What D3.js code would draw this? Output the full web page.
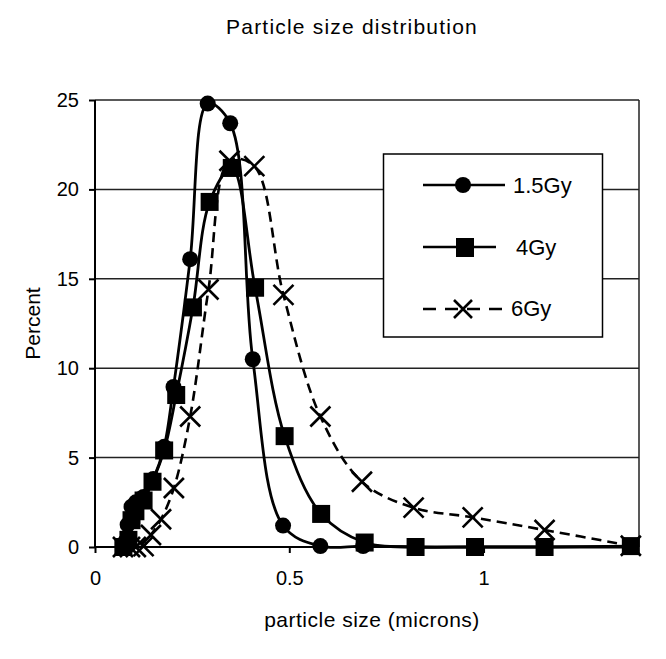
<!DOCTYPE html>
<html><head><meta charset="utf-8">
<script src="https://cdn.jsdelivr.net/npm/d3@7"></script>
<style>
html,body{margin:0;padding:0;background:#fff;}
svg{display:block;font-family:"Liberation Sans",Arial,sans-serif;}
</style></head>
<body>
<script>
// ---- data ----
const title = "Particle size distribution";
const xLabel = "particle size (microns)";
const yLabel = "Percent";
const xTicks = [0, 0.5, 1];
const yTicks = [0, 5, 10, 15, 20, 25];
const seriesNames = ["1.5Gy", "4Gy", "6Gy"];

const x15 = [0.072,0.078,0.084,0.094,0.105,0.125,0.150,0.178,0.202,0.245,0.290,0.348,0.406,0.484,0.580,0.690,0.825,0.978,1.157,1.379];
const y15 = [0.0,0.3,1.25,2.25,2.5,2.8,3.8,5.6,8.95,16.1,24.8,23.7,10.5,1.2,0.05,0.05,0,0,0,0];

const x4 = [0.073,0.086,0.094,0.104,0.125,0.148,0.178,0.209,0.252,0.295,0.352,0.412,0.488,0.582,0.694,0.825,0.978,1.157,1.379];
const y4 = [0.0,0.4,1.5,2.0,2.6,3.65,5.4,8.5,13.4,19.3,21.2,14.5,6.2,1.85,0.25,0,0,0,0.05];

const x6 = [0.072,0.090,0.105,0.125,0.144,0.170,0.203,0.245,0.292,0.346,0.410,0.485,0.580,0.687,0.820,0.972,1.157,1.379];
const y6 = [0,0,0,0.05,0.67,1.55,3.3,7.3,14.4,21.6,21.3,14.1,7.3,3.65,2.2,1.66,0.95,0.07];

const W = 666, H = 659;
const m = {left:95, top:100, right:639, bottom:547};

const svg = d3.select("body").append("svg").attr("width",W).attr("height",H);
svg.append("rect").attr("width",W).attr("height",H).attr("fill","#fff");

const x = d3.scaleLinear().domain([0,1.4]).range([m.left,m.right]);
const y = d3.scaleLinear().domain([0,25]).range([m.bottom,m.top]);

// gridlines
svg.append("g").selectAll("line").data(yTicks.filter(d=>d>0)).join("line")
  .attr("x1",m.left).attr("x2",m.right).attr("y1",d=>y(d)).attr("y2",d=>y(d))
  .attr("stroke","#222").attr("stroke-width",1.5);
// right border
svg.append("line").attr("x1",m.right).attr("x2",m.right).attr("y1",m.top).attr("y2",m.bottom)
  .attr("stroke","#222").attr("stroke-width",1.5);

// axes
const yAxis = svg.append("g").attr("transform",`translate(${m.left},0)`)
  .call(d3.axisLeft(y).tickValues(yTicks).tickSize(6).tickPadding(10).tickFormat(d3.format("d")));
const xAxis = svg.append("g").attr("transform",`translate(0,${m.bottom})`)
  .call(d3.axisBottom(x).tickValues(xTicks).tickSize(6).tickPadding(18).tickFormat(d=>String(d)));
[yAxis,xAxis].forEach(g=>{
  g.select(".domain").attr("stroke","#000").attr("stroke-width",2);
  g.selectAll(".tick line").attr("stroke","#000").attr("stroke-width",2);
  g.selectAll("text").attr("font-family","Liberation Sans, Arial, sans-serif").attr("font-size",20).attr("fill","#000");
});
xAxis.select(".domain").attr("d",`M${m.left},0H${m.right}`);
yAxis.select(".domain").attr("d",`M0,${m.bottom}V${m.top}`);

// titles
svg.append("text").attr("x",352).attr("y",34).attr("text-anchor","middle")
  .attr("font-size",21).attr("letter-spacing",1.2).text(title);
svg.append("text").attr("x",372).attr("y",627).attr("text-anchor","middle")
  .attr("font-size",21).attr("letter-spacing",0.5).text(xLabel);
svg.append("text").attr("transform",`translate(40,${(m.top+m.bottom)/2}) rotate(-90)`)
  .attr("text-anchor","middle").attr("font-size",21).text(yLabel);

const line = d3.line().x(d=>x(d[0])).y(d=>y(d[1])).curve(d3.curveCatmullRom.alpha(0.5));
const d15 = x15.map((v,i)=>[v,y15[i]]);
const d4 = x4.map((v,i)=>[v,y4[i]]);
const d6 = x6.map((v,i)=>[v,y6[i]]);

// lines
svg.append("path").datum(d6).attr("d",line).attr("fill","none").attr("stroke","#000")
  .attr("stroke-width",2.6).attr("stroke-dasharray","10,6");
svg.append("path").datum(d4).attr("d",line).attr("fill","none").attr("stroke","#000").attr("stroke-width",2.8);
svg.append("path").datum(d15).attr("d",line).attr("fill","none").attr("stroke","#000").attr("stroke-width",2.8);

// markers
function cross(g, cx, cy, s){
  g.append("path").attr("d",`M${cx-s},${cy-s}L${cx+s},${cy+s}M${cx-s},${cy+s}L${cx+s},${cy-s}`)
    .attr("stroke","#000").attr("stroke-width",2.6).attr("fill","none");
}
const g6 = svg.append("g");
d6.forEach(d=>cross(g6, x(d[0]), y(d[1]), 10));
svg.append("g").selectAll("rect").data(d4).join("rect")
  .attr("x",d=>x(d[0])-9).attr("y",d=>y(d[1])-9).attr("width",18).attr("height",18).attr("fill","#000");
svg.append("g").selectAll("circle").data(d15).join("circle")
  .attr("cx",d=>x(d[0])).attr("cy",d=>y(d[1])).attr("r",8).attr("fill","#000");

// legend
const lg = svg.append("g");
lg.append("rect").attr("x",383.5).attr("y",154).attr("width",219).attr("height",183)
  .attr("fill","#fff").attr("stroke","#000").attr("stroke-width",1.5);
// row 1
lg.append("line").attr("x1",423).attr("x2",505).attr("y1",185).attr("y2",185).attr("stroke","#000").attr("stroke-width",2.6);
lg.append("circle").attr("cx",463).attr("cy",185).attr("r",8).attr("fill","#000");
lg.append("text").attr("x",513).attr("y",193).attr("font-size",22).text(seriesNames[0]);
// row 2
lg.append("line").attr("x1",423).attr("x2",496).attr("y1",247).attr("y2",247).attr("stroke","#000").attr("stroke-width",2.6);
lg.append("rect").attr("x",456).attr("y",238).attr("width",18).attr("height",19).attr("fill","#000");
lg.append("text").attr("x",516).attr("y",255).attr("font-size",22).text(seriesNames[1]);
// row 3
lg.append("line").attr("x1",423).attr("x2",502).attr("y1",309).attr("y2",309).attr("stroke","#000").attr("stroke-width",2.6).attr("stroke-dasharray","13,9");
cross(lg, 463, 309, 9);
lg.append("text").attr("x",511).attr("y",316).attr("font-size",22).text(seriesNames[2]);
</script>
</body></html>
